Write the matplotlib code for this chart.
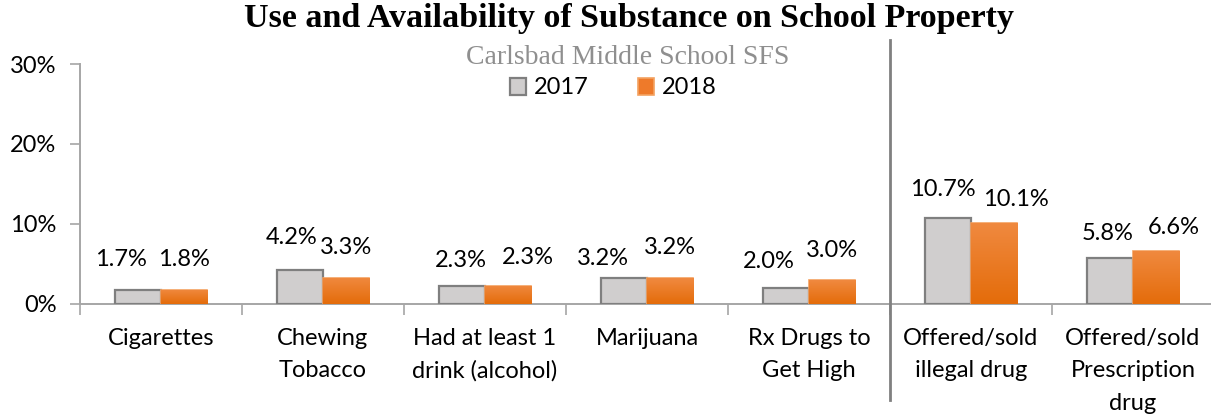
import matplotlib
matplotlib.use("Agg")
import matplotlib.pyplot as plt
import matplotlib.transforms as mtransforms
from matplotlib.colors import LinearSegmentedColormap
import numpy as np

categories = ["Cigarettes", "Chewing\nTobacco", "Had at least 1\ndrink (alcohol)", "Marijuana",
              "Rx Drugs to\nGet High", "Offered/sold\nillegal drug", "Offered/sold\nPrescription\ndrug"]
years = ["2017", "2018"]
values_2017 = [1.7, 4.2, 2.3, 3.2, 2.0, 10.7, 5.8]
values_2018 = [1.8, 3.3, 2.3, 3.2, 3.0, 10.1, 6.6]
yticks = [0, 10, 20, 30]

# offsets (points) for the value labels, to keep neighbours apart
nudge_2017 = [-12, -6, -1, -15, -12, -4, -2]
nudge_2018 = [0, 0, 14, 0, 0, 16, 13]
rise_2017 = [22, 24, 18, 14, 19, 21, 17]
rise_2018 = [22, 22, 20, 22, 21, 17, 17]

W, H = 1211, 416
fig = plt.figure(figsize=(W / 100, H / 100), dpi=100)
ax = fig.add_axes([80 / W, (H - 304) / H, 1134 / W, 240 / H])

font = "Lato"
fs = 17
x = np.arange(len(categories))
bw = 0.285

gray_fill, gray_edge = "#d0cece", "#7f7f7f"
orange_fill, orange_edge = "#ee7a2a", "#f4a261"

b1 = ax.bar(x - bw / 2, values_2017, bw, color=gray_fill, edgecolor=gray_edge, linewidth=1.6, zorder=3)
b2 = ax.bar(x + bw / 2, values_2018, bw, color=orange_fill, edgecolor=orange_edge, linewidth=1.2, zorder=3)

# vertical gradient inside the orange bars
grad = np.linspace(0, 1, 64).reshape(-1, 1)
cmap = LinearSegmentedColormap.from_list("og", ["#e46c0a", "#f0893f"])
for rect in b2:
    x0, y0 = rect.get_x(), rect.get_y()
    w, h = rect.get_width(), rect.get_height()
    im = ax.imshow(grad, cmap=cmap, extent=[x0, x0 + w, y0, y0 + h], aspect="auto",
                   origin="lower", zorder=3.5)
    im.set_clip_path(rect)

for i, (v1, v2) in enumerate(zip(values_2017, values_2018)):
    ax.annotate(f"{v1:.1f}%", (x[i] - bw / 2, v1), xytext=(nudge_2017[i], rise_2017[i]),
                textcoords="offset points", ha="center", va="center", fontsize=fs, family=font)
    ax.annotate(f"{v2:.1f}%", (x[i] + bw / 2, v2), xytext=(nudge_2018[i], rise_2018[i]),
                textcoords="offset points", ha="center", va="center", fontsize=fs, family=font)

ax.set_xlim(-0.5, len(categories) - 0.5)
ax.set_ylim(0, 30)
ax.set_yticks(yticks)
ax.set_yticklabels([f"{t}%" for t in yticks], fontsize=fs, family=font)
ax.set_xticks(np.arange(len(categories) + 1) - 0.5)
ax.set_xticklabels([])
ax.set_xticks(x, minor=True)
ax.set_xticklabels(categories, minor=True, fontsize=fs, family=font, linespacing=1.68, va="top")
ax.tick_params(axis="x", which="minor", length=0, pad=17)
ax.tick_params(axis="x", which="major", length=8, color="#a6a6a6", width=1.2)
ax.tick_params(axis="y", length=7, color="#a6a6a6", width=1.2, pad=10)

for s in ["top", "right"]:
    ax.spines[s].set_visible(False)
for s in ["left", "bottom"]:
    ax.spines[s].set_color("#a6a6a6")
    ax.spines[s].set_linewidth(1.4)

# divider between the use and availability groups
trans = mtransforms.blended_transform_factory(ax.transData, ax.transAxes)
ax.plot([4.5, 4.5], [(304 - 40) / 240, (304 - 400) / 240], transform=trans,
        color="#808080", linewidth=2, clip_on=False, zorder=5)

fig.text(629 / W, 1 - 18 / H, "Use and Availability of Substance on School Property",
         ha="center", va="center", fontsize=24.5, fontweight="bold", family="Liberation Serif")
fig.text(628 / W, 1 - 57 / H, "Carlsbad Middle School SFS", ha="center", va="center",
         fontsize=20, color="#8f8f8f", family="Liberation Serif")

leg = fig.legend([b1, b2], years, loc="center", bbox_to_anchor=(613 / W, 1 - 88 / H), ncol=2,
                 frameon=False, prop={"family": font, "size": fs}, handlelength=0.7,
                 handleheight=0.7, handletextpad=0.3, columnspacing=2.1)

fig.savefig("out.png", dpi=100)
